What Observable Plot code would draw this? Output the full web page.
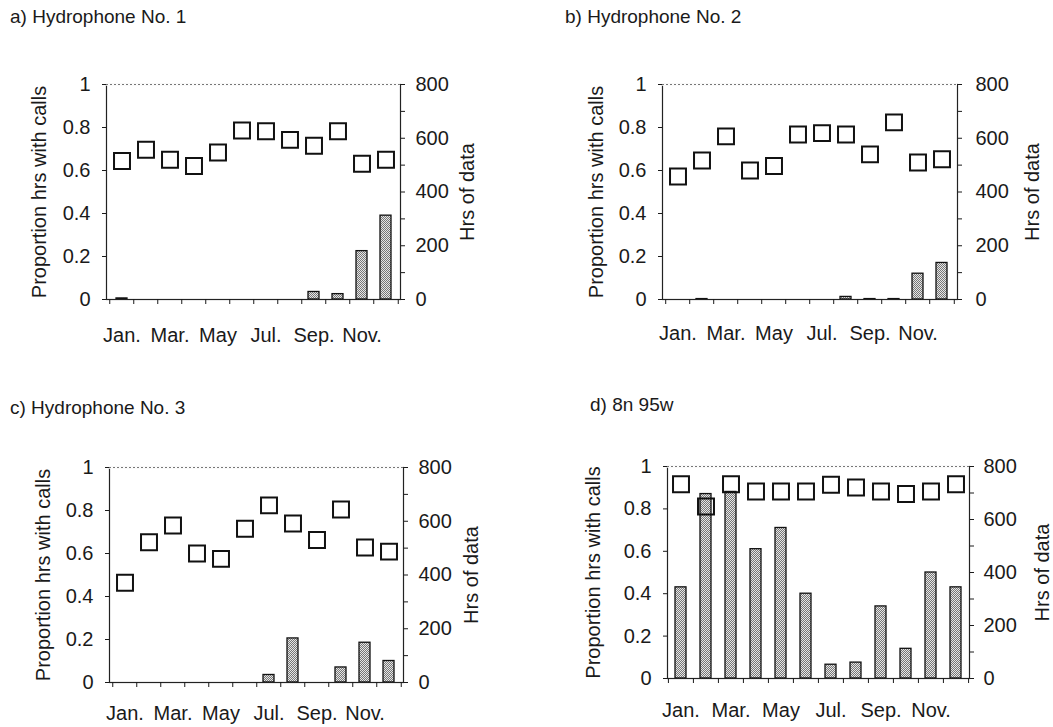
<!DOCTYPE html>
<html><head><meta charset="utf-8">
<script src="https://cdn.jsdelivr.net/npm/d3@7"></script>
<script src="https://cdn.jsdelivr.net/npm/@observablehq/plot@0.6"></script>
<style>
body{margin:0;background:#fff;}
#root{position:relative;width:1053px;height:727px;overflow:hidden;font-family:"Liberation Sans",Arial,sans-serif;color:#1a1a1a;background:#fff;}
.title{position:absolute;font-size:19px;line-height:19px;white-space:nowrap;}
.layer{position:absolute;}
</style></head><body><div id="root"></div>
<script>
// ---- data ----
const months = ["Jan.","Feb.","Mar.","Apr.","May","Jun.","Jul.","Aug.","Sep.","Oct.","Nov.","Dec."];
const labelMonths = ["Jan.","Mar.","May","Jul.","Sep.","Nov."];
const propTicks = [0, 0.2, 0.4, 0.6, 0.8, 1];
const hrsTicks = [0, 100, 200, 300, 400, 500, 600, 700, 800];
const yLabel = "Proportion hrs with calls";
const hrsLabel = "Hrs of data";

const titleA = "a) Hydrophone No. 1";
const propA = [0.005, 0, 0, 0, 0, 0, 0, 0, 0.035, 0.025, 0.225, 0.39];
const hrsA  = [515, 557, 520, 497, 547, 629, 626, 594, 572, 626, 505, 520];

const titleB = "b) Hydrophone No. 2";
const propB = [0, 0.002, 0, 0, 0, 0, 0, 0.012, 0.002, 0.002, 0.12, 0.17];
const hrsB  = [458, 517, 607, 480, 497, 614, 619, 614, 540, 659, 510, 522];

const titleC = "c) Hydrophone No. 3";
const propC = [0, 0, 0, 0, 0, 0, 0.035, 0.205, 0, 0.07, 0.185, 0.1];
const hrsC  = [371, 522, 584, 480, 460, 572, 659, 592, 530, 644, 502, 487];

const titleD = "d) 8n 95w";
const propD = [0.43, 0.87, 0.88, 0.61, 0.71, 0.40, 0.065, 0.075, 0.34, 0.14, 0.50, 0.43];
const hrsD  = [733, 649, 733, 706, 706, 706, 731, 721, 706, 696, 706, 733];

// ---- layout ----
const FONT = "Liberation Sans, Arial, sans-serif";
const root = document.getElementById("root");

function makePanel(p) {
  const rows = months.map((m, i) => ({month: m, prop: p.props[i], hrs: p.hrs[i]}));
  const plotW = p.width - p.mL - p.mR;
  const step = plotW / months.length;
  const xOpts = {type: "band", domain: months, paddingInner: 0.55, paddingOuter: 0.275, axis: null};
  const common = {
    width: p.width, height: p.height,
    marginLeft: p.mL, marginRight: p.mR, marginTop: p.mT, marginBottom: p.mB,
    style: {background: "transparent", fontFamily: FONT, color: "#1a1a1a", overflow: "visible"}
  };
  const patId = "stip-" + p.id;
  const bars = Plot.plot({
    ...common,
    x: xOpts,
    y: {domain: [0, 1], axis: null},
    marks: [
      Plot.barY(rows.filter(d => d.prop > 0), {x: "month", y: "prop", fill: `url(#${patId})`, stroke: "#111", strokeWidth: 1.3}),
      Plot.frame({stroke: "#222", strokeWidth: 1.2}),
      Plot.ruleY([1], {stroke: "white", strokeWidth: 2.5}),
      Plot.ruleY([1], {stroke: "#777", strokeDasharray: "2,2"}),
      Plot.axisY(propTicks, {tickSize: 4, tickPadding: 12, tickFormat: d3.format("~g"), fontSize: 20, label: null}),
      Plot.axisX(months, {tickSize: 5, tickFormat: () => "", dx: -step / 2, label: null}),
      Plot.axisX([months[months.length - 1]], {tickSize: 5, tickFormat: () => "", dx: step / 2, label: null}),
      Plot.axisX(labelMonths, {tickSize: 0, tickPadding: p.xPad, fontSize: 20, label: null}),
      Plot.text([yLabel], {text: d => d, frameAnchor: "left", textAnchor: "middle", rotate: -90, dx: p.yLabDx, fontSize: 20})
    ]
  });
  const defs = d3.select(bars).insert("defs", ":first-child");
  const pat = defs.append("pattern").attr("id", patId).attr("width", 2).attr("height", 2).attr("patternUnits", "userSpaceOnUse");
  pat.append("rect").attr("width", 2).attr("height", 2).attr("fill", "#e6e6e6");
  pat.append("rect").attr("width", 1).attr("height", 1).attr("fill", "#777");
  pat.append("rect").attr("x", 1).attr("y", 1).attr("width", 1).attr("height", 1).attr("fill", "#777");

  const squares = Plot.plot({
    ...common,
    x: xOpts,
    y: {domain: [0, 800], axis: null},
    marks: [
      Plot.dot(rows, {x: "month", y: "hrs", symbol: "square", r: 9, stroke: "#111", strokeWidth: 2, fill: "none"}),
      Plot.axisY(hrsTicks, {anchor: "right", tickSize: 4, tickPadding: p.rPad, tickFormat: d => (d % 200 === 0 ? String(d) : ""), fontSize: 20, label: null}),
      Plot.text([hrsLabel], {text: d => d, frameAnchor: "right", textAnchor: "middle", rotate: -90, dx: p.hLabDx, fontSize: 20})
    ]
  });

  for (const svg of [bars, squares]) {
    svg.classList.add("layer");
    svg.style.left = p.left + "px";
    svg.style.top = p.top + "px";
    root.appendChild(svg);
  }
  const t = document.createElement("div");
  t.className = "title";
  t.textContent = p.title;
  t.style.left = p.tx + "px";
  t.style.top = p.ty + "px";
  root.appendChild(t);
}

makePanel({id: "a", title: titleA, props: propA, hrs: hrsA, left: 0, top: 40, width: 530, height: 320,
  mL: 106, mR: 130, mT: 44, mB: 61, xPad: 28, yLabDx: -67, hLabDx: 67, rPad: 11, tx: 10, ty: 7});
makePanel({id: "b", title: titleB, props: propB, hrs: hrsB, left: 540, top: 40, width: 513, height: 320,
  mL: 122, mR: 96, mT: 44, mB: 61, xPad: 26, yLabDx: -66, hLabDx: 75, rPad: 14, tx: 565, ty: 7});
makePanel({id: "c", title: titleC, props: propC, hrs: hrsC, left: 0, top: 425, width: 540, height: 302,
  mL: 109, mR: 137, mT: 42, mB: 45, xPad: 23, yLabDx: -66, hLabDx: 68, rPad: 11, tx: 10, ty: 398});
makePanel({id: "d", title: titleD, props: propD, hrs: hrsD, left: 540, top: 425, width: 513, height: 302,
  mL: 127, mR: 84, mT: 41, mB: 49, xPad: 24, yLabDx: -74, hLabDx: 73, rPad: 10, tx: 590, ty: 395});
</script></body></html>
